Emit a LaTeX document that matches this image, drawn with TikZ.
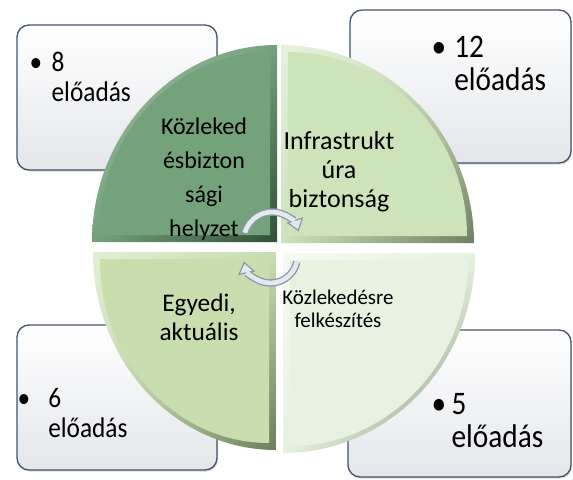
\documentclass[tikz,border=0pt]{standalone}
\usepackage{fontspec}
\setmainfont{Carlito}
\usetikzlibrary{arrows.meta,positioning,shadows,shadings}

\definecolor{boxline}{HTML}{44546A}
\definecolor{boxshade}{HTML}{E4E6EA}
\definecolor{quadAlight}{HTML}{A9C9AC}
\definecolor{quadAdark}{HTML}{2F4F35}
\definecolor{quadAfill}{HTML}{74A27B}
\definecolor{quadBlight}{HTML}{E6F1DC}
\definecolor{quadBdark}{HTML}{6F7F62}
\definecolor{quadBfill}{HTML}{CDE3BA}
\definecolor{quadClight}{HTML}{E2EED4}
\definecolor{quadCdark}{HTML}{6A7E5A}
\definecolor{quadCfill}{HTML}{C8DEAF}
\definecolor{quadDlight}{HTML}{F6FAF3}
\definecolor{quadDdark}{HTML}{8A9983}
\definecolor{quadDfill}{HTML}{E8F2E0}
\definecolor{arrowedge}{HTML}{8C98A6}
\definecolor{arrowcore}{HTML}{E4E9F0}

\tikzset{
  infobox/.style={draw=boxline, line width=1pt, rounded corners=9pt,
    top color=white, bottom color=boxshade, inner sep=0pt,
    drop shadow={shadow xshift=0.8pt, shadow yshift=-1.2pt, opacity=0.3}},
  itemtext/.style={inner sep=0pt, anchor=base west, yscale=1.12, transform shape},
  quadtext/.style={inner sep=0pt, align=center},
  cycleedge/.style={draw=arrowedge, line width=5.5pt,
    -{Triangle[length=9pt,width=13pt,fill=arrowcore,line width=0.9pt]}},
  cyclecore/.style={draw=arrowcore, line width=3.5pt, shorten >=8.5pt}
}

% #1 gap after the bullet, #2 number
\newcommand{\itemlines}[2]{%
  \begin{tabular}[t]{@{}l@{}}\makebox[#1][l]{\textbullet}#2\\\hspace*{#1}előadás\end{tabular}}

\begin{document}
\begin{tikzpicture}[x=0.75pt,y=0.75pt]
\useasboundingbox (0,0) rectangle (573,479);
%
% number boxes
\node[infobox, minimum width=150pt, minimum height=108.75pt] (boxA) at (117,381.5) {};
\node[infobox, minimum width=165.75pt, minimum height=114.75pt] (boxB) at (460.5,392.5) {};
\node[infobox, minimum width=150pt, minimum height=108.75pt] (boxC) at (117,81.5) {};
\node[infobox, minimum width=167.25pt, minimum height=110.25pt] (boxD) at (459.5,75.5) {};
%
\node[itemtext, font=\fontsize{19pt}{20pt}\selectfont] (numA)
  at ([shift={(13,-47)}]boxA.north west) {\itemlines{16.5pt}{8}};
\node[itemtext, font=\fontsize{22pt}{22.5pt}\selectfont] (numB)
  at ([shift={(82,-48)}]boxB.north west) {\itemlines{17pt}{12}};
\node[itemtext, font=\fontsize{19pt}{20pt}\selectfont] (numC)
  at ([shift={(1,-83)}]boxC.north west) {\itemlines{23pt}{6}};
\node[itemtext, font=\fontsize{22pt}{22.5pt}\selectfont] (numD)
  at ([shift={(84,-85)}]boxD.north west) {\itemlines{15pt}{5}};
%
% quadrants: bevel first, face on top
\shade[upper left=quadAlight, lower right=quadAdark, upper right=quadAfill, lower left=quadAfill]
  (277,237) -- ++(0,197) arc[start angle=90,end angle=180,x radius=185,y radius=197] -- cycle;
\fill[quadAfill] (270,244) -- ++(0,183) arc[start angle=90,end angle=180,x radius=171,y radius=183] -- cycle;
%
\shade[upper left=quadBlight, lower right=quadBdark, upper right=quadBfill, lower left=quadBfill]
  (281,236) -- ++(193,0) arc[start angle=0,end angle=90,x radius=193,y radius=198] -- cycle;
\fill[quadBfill] (288,243) -- ++(179,0) arc[start angle=0,end angle=90,x radius=179,y radius=184] -- cycle;
%
\shade[upper left=quadClight, lower right=quadCdark, upper right=quadCfill, lower left=quadCfill]
  (276,227) -- ++(-183,0) arc[start angle=180,end angle=270,x radius=183,y radius=198] -- cycle;
\fill[quadCfill] (269,220) -- ++(-169,0) arc[start angle=180,end angle=270,x radius=169,y radius=184] -- cycle;
%
\shade[upper left=quadDlight, lower right=quadDdark, upper right=quadDfill, lower left=quadDfill]
  (283,226) -- ++(0,-200) arc[start angle=270,end angle=360,x radius=192,y radius=200] -- cycle;
\fill[quadDfill] (290,219) -- ++(0,-186) arc[start angle=270,end angle=360,x radius=178,y radius=186] -- cycle;
%
\node[quadtext, font=\fontsize{18pt}{25.5pt}\selectfont] (txtA) at (204,300)
  {Közleked\\ésbizton\\sági\\helyzet};
\node[quadtext, font=\fontsize{19.5pt}{21.6pt}\selectfont] (txtB) at (339,307)
  {Infrastrukt\\úra\\biztonság};
\node[quadtext, font=\fontsize{19pt}{21.75pt}\selectfont] (txtC) at (199,161.5)
  {Egyedi,\\aktuális};
\node[quadtext, font=\fontsize{15.7pt}{16.8pt}\selectfont] (txtD) at (338,170)
  {Közlekedésre\\felkészítés};
%
% cycle arrows
\coordinate (cycA) at (272,239);
\coordinate (cycB) at (270.5,223);
\draw[cycleedge] ([shift={(165:28)}]cycA) arc[start angle=165,end angle=18,radius=28];
\draw[cyclecore] ([shift={(165:28)}]cycA) arc[start angle=165,end angle=18,radius=28];
\draw[cycleedge] ([shift={(-12:27)}]cycB) arc[start angle=-12,end angle=-168,radius=27];
\draw[cyclecore] ([shift={(-12:27)}]cycB) arc[start angle=-12,end angle=-168,radius=27];
\end{tikzpicture}
\end{document}
